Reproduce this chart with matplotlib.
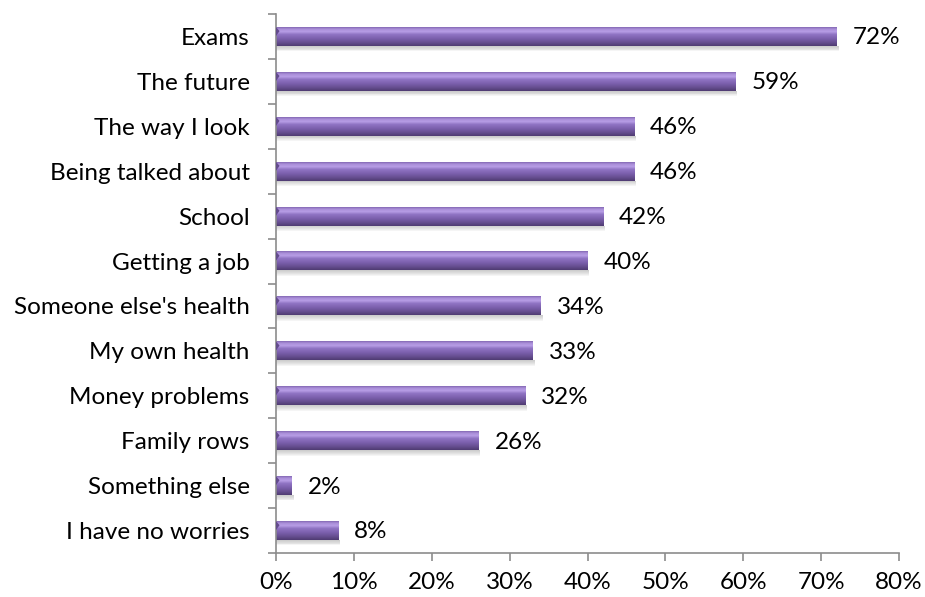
import numpy as np
from matplotlib import pyplot as plt
from matplotlib.colors import LinearSegmentedColormap
from matplotlib.ticker import FixedLocator

# Worries, listed top to bottom
categories = ['Exams', 'The future', 'The way I look', 'Being talked about', 'School',
              'Getting a job', "Someone else's health", 'My own health', 'Money problems',
              'Family rows', 'Something else', 'I have no worries']
values = [72, 59, 46, 46, 42, 40, 34, 33, 32, 26, 2, 8]
xticks = [0, 10, 20, 30, 40, 50, 60, 70, 80]

plt.rcParams['font.family'] = ['Lato', 'DejaVu Sans']
fontSize = 17.5
axisColor = '#8c8c8c'
barHeight = 0.42

# vertical colour ramp to give the bars a rounded look (top -> bottom)
barCmap = LinearSegmentedColormap.from_list('tube', [
    (0.00, '#8468b4'), (0.10, '#a98ed8'), (0.24, '#b89ee6'), (0.38, '#9074c4'),
    (0.60, '#7c60ae'), (0.82, '#664e90'), (1.00, '#4f3b72')])
ramp = np.linspace(0, 1, 64).reshape(-1, 1)

fig = plt.figure(figsize=(9.25, 5.97), dpi=100)
ax = fig.add_axes([0.2984, 0.0737, 0.9719 - 0.2984, 0.9765 - 0.0737])

n = len(categories)
ypos = np.arange(n)[::-1]

for y, v in zip(ypos, values):
    top = y + barHeight / 2
    bottom = y - barHeight / 2
    # soft shadow under the bar
    for k in range(6):
        ax.fill_between([0, v + 0.25], bottom - 0.02 * (k + 1), bottom,
                        color='#7a7a7a', alpha=0.07, lw=0, zorder=1)
    ax.imshow(ramp, cmap=barCmap, aspect='auto', origin='upper',
              extent=(0, v, bottom, top), zorder=2, interpolation='bilinear')
    # small bevel at the left end
    ax.fill([0, 0.45, 0], [top, top - 0.09, top - 0.2], color='#634b8c', lw=0, zorder=3)
    ax.annotate('{}%'.format(v), xy=(v, y), xytext=(11.5, -1), textcoords='offset points',
                ha='left', va='center', fontsize=fontSize, color='black')

ax.set_xlim(0, 80)
ax.set_ylim(-0.5, n - 0.5)

ax.set_xticks(xticks)
ax.set_xticklabels(['{}%'.format(t) for t in xticks])
ax.set_yticks(ypos)
ax.set_yticklabels(categories)
ax.yaxis.set_minor_locator(FixedLocator(np.arange(n + 1) - 0.5))

ax.tick_params(axis='y', which='major', length=0, pad=19, labelsize=fontSize)
ax.tick_params(axis='y', which='minor', length=6, width=1.2, color=axisColor)
ax.tick_params(axis='x', length=6, width=1.2, color=axisColor, pad=8, labelsize=fontSize)

for side in ['top', 'right']:
    ax.spines[side].set_visible(False)
for side in ['left', 'bottom']:
    ax.spines[side].set_color(axisColor)
    ax.spines[side].set_linewidth(1.2)

fig.savefig('out.png', dpi=100)
